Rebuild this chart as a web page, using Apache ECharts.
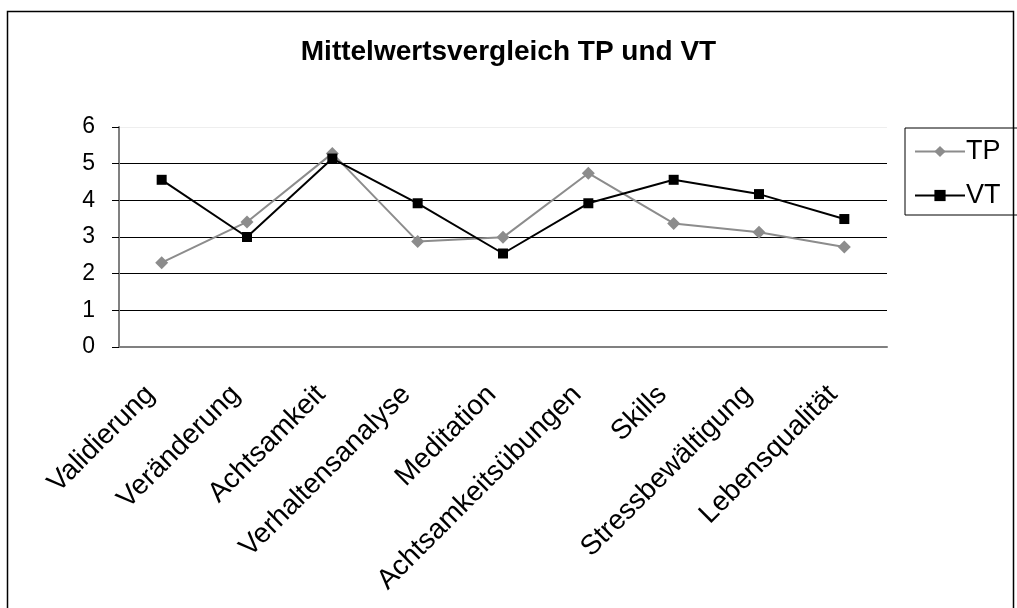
<!DOCTYPE html>
<html>
<head>
<meta charset="utf-8">
<script src="https://cdn.jsdelivr.net/npm/echarts@6/dist/echarts.min.js"></script>
<style>
  html, body { margin: 0; padding: 0; background: #fff; }
  #main { width: 1017px; height: 608px; }
</style>
</head>
<body>
<div id="main"></div>
<script>
// Kategorien (x-Achse)
const categories = ['Validierung', 'Veränderung', 'Achtsamkeit', 'Verhaltensanalyse', 'Meditation',
  'Achtsamkeitsübungen', 'Skills', 'Stressbewältigung', 'Lebensqualität'];
// Mittelwerte TP
const tpValues = [2.3, 3.41, 5.28, 2.88, 2.99, 4.74, 3.37, 3.13, 2.73];
// Mittelwerte VT
const vtValues = [4.56, 3.0, 5.14, 3.92, 2.55, 3.92, 4.56, 4.17, 3.49];

const font = 'Liberation Sans, Arial, sans-serif';

const chart = echarts.init(document.getElementById('main'));
chart.setOption({
  backgroundColor: '#fff',
  animation: false,
  title: {
    text: 'Mittelwertsvergleich TP und VT',
    left: 'center',
    top: 33,
    textStyle: { fontFamily: font, fontSize: 28, fontWeight: 'bold', color: '#000' }
  },
  // Rahmen um das ganze Diagramm
  graphic: [{
    type: 'rect',
    shape: { x: 7.5, y: 11.5, width: 1006, height: 640 },
    style: { fill: 'none', stroke: '#000', lineWidth: 1.5 },
    silent: true
  }],
  legend: {
    orient: 'vertical',
    left: 905,
    top: 128,
    padding: [10, 20, 6, 9],
    itemGap: 17,
    itemWidth: 50,
    itemHeight: 14,
    borderColor: '#000',
    borderWidth: 1,
    textStyle: { fontFamily: font, fontSize: 27, color: '#000', padding: [0, 0, 0, -4] },
    data: ['TP', 'VT']
  },
  grid: { left: 119, right: 130, top: 127, bottom: 261 },
  xAxis: {
    type: 'category',
    data: categories,
    boundaryGap: true,
    axisLine: { lineStyle: { color: '#808080', width: 2 } },
    axisTick: { length: 8, lineStyle: { color: '#000' } },
    axisLabel: {
      rotate: 45,
      margin: 32,
      padding: [0, 16, 0, 0],
      fontFamily: font,
      fontSize: 28,
      color: '#000'
    }
  },
  yAxis: {
    type: 'value',
    min: 0,
    max: 6,
    interval: 1,
    axisLine: { show: true, lineStyle: { color: '#808080', width: 2 } },
    axisTick: { show: true, length: 7, lineStyle: { color: '#000' } },
    axisLabel: { fontFamily: font, fontSize: 23, color: '#000', margin: 24 },
    splitLine: { lineStyle: { color: ['#000', '#000', '#000', '#000', '#000', '#000', '#eeeeee'], width: 1 } }
  },
  series: [
    {
      name: 'TP',
      type: 'line',
      data: tpValues,
      symbol: 'diamond',
      symbolSize: 13,
      lineStyle: { color: '#8c8c8c', width: 2 },
      itemStyle: { color: '#8c8c8c' }
    },
    {
      name: 'VT',
      type: 'line',
      data: vtValues,
      symbol: 'rect',
      symbolSize: 10,
      lineStyle: { color: '#000', width: 2 },
      itemStyle: { color: '#000' }
    }
  ]
});
</script>
</body>
</html>
